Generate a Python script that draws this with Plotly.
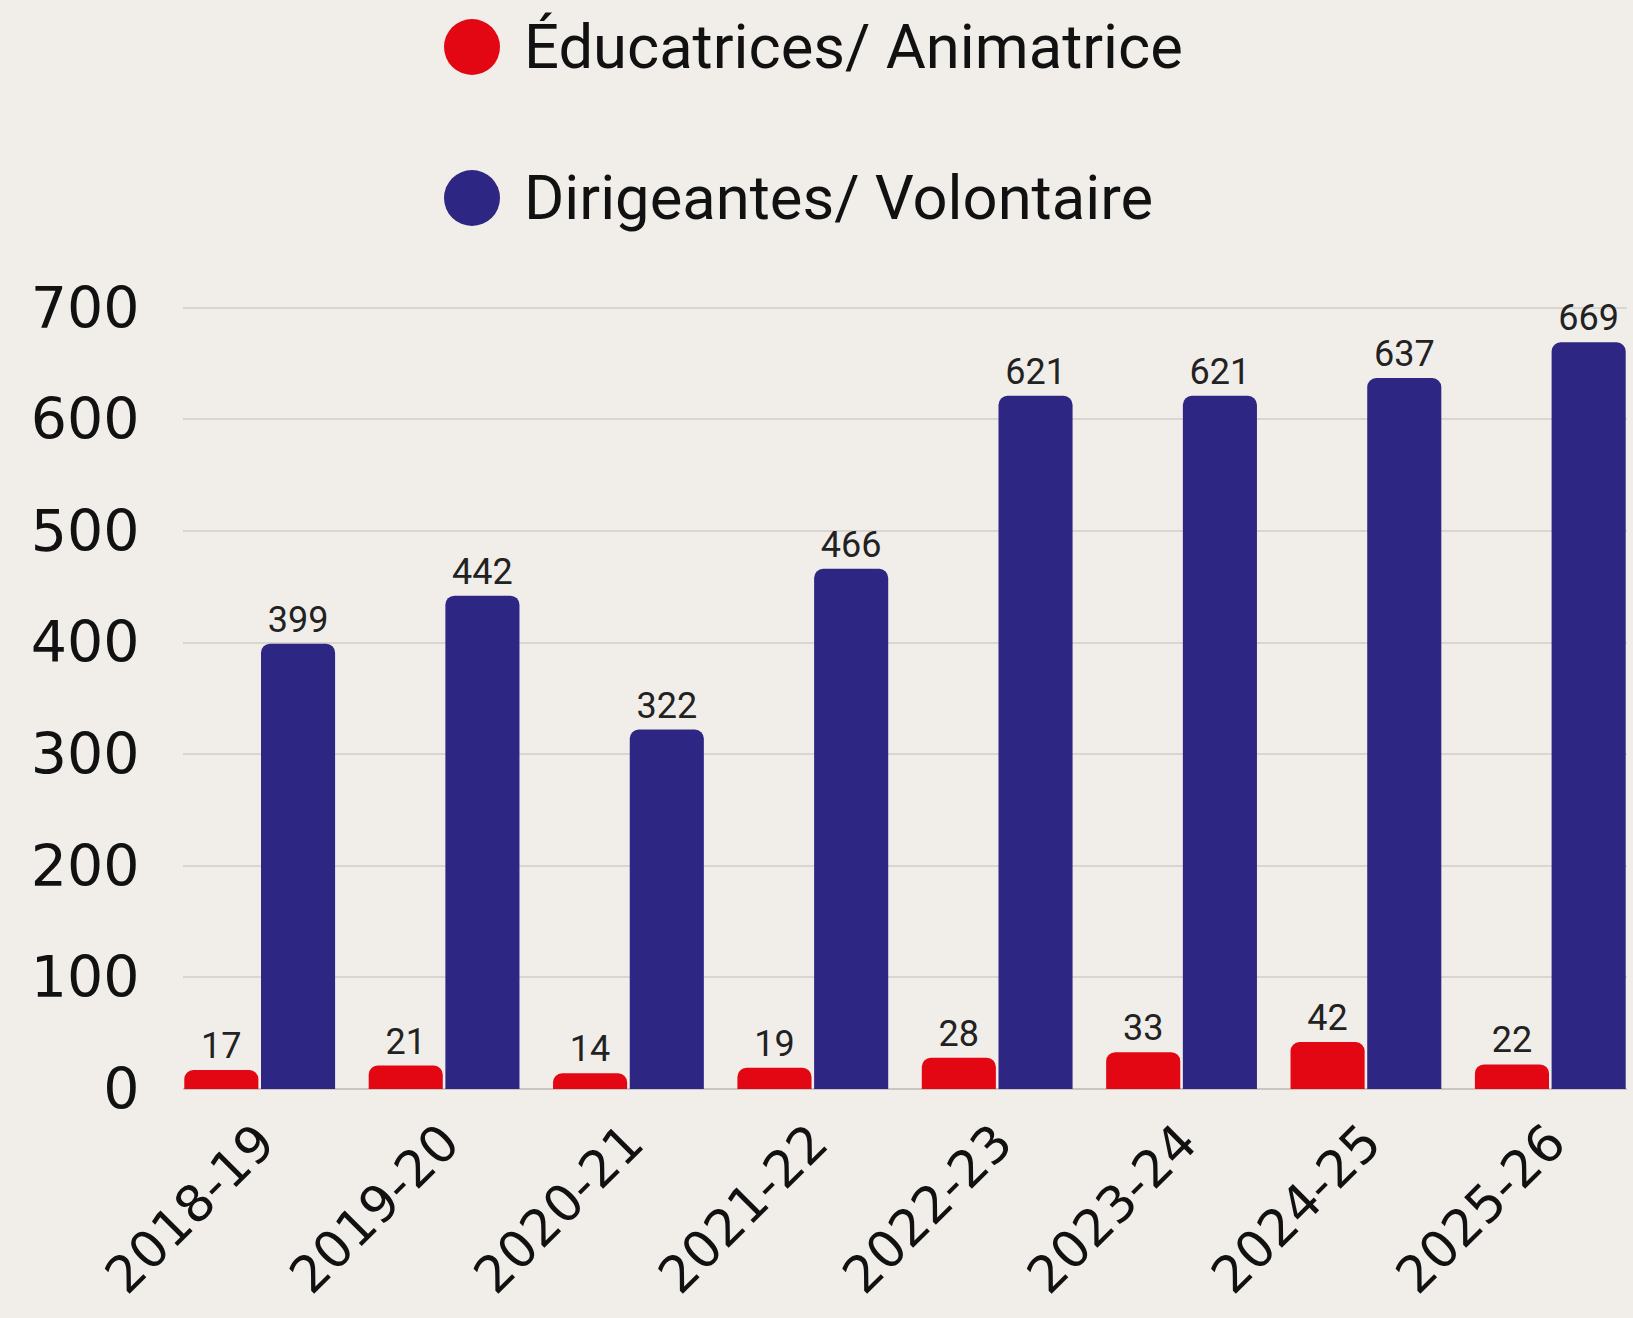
import plotly.graph_objects as go

seasons = ["2018-19", "2019-20", "2020-21", "2021-22", "2022-23", "2023-24", "2024-25", "2025-26"]
educatrices = [17, 21, 14, 19, 28, 33, 42, 22]
dirigeantes = [399, 442, 322, 466, 621, 621, 637, 669]
series_names = ["Éducatrices/ Animatrice", "Dirigeantes/ Volontaire"]
series_colors = ["#E30613", "#2E2683"]
y_ticks = [0, 100, 200, 300, 400, 500, 600, 700]

BG = "#F1EEEA"
W, H = 1633, 1318
L, R, T, B = 183, 6, 306, 229

fig = go.Figure()
for name, vals, col in zip(series_names, [educatrices, dirigeantes], series_colors):
    fig.add_trace(go.Bar(
        x=seasons, y=vals, name=name,
        marker=dict(color=col, cornerradius=9, line=dict(width=0)),
        text=[str(v) for v in vals], textposition="outside",
        textfont=dict(family="Roboto", size=36, color="#222222"),
        cliponaxis=False, showlegend=False,
    ))

# custom legend (big circles)
pw, ph = W - L - R, H - T - B
leg_y = [47, 198]
for name, col, py in zip(series_names, series_colors, leg_y):
    xp = (472 - L) / pw
    yp = (H - B - py) / ph
    fig.add_shape(type="circle", xref="paper", yref="paper",
                  xsizemode="pixel", ysizemode="pixel",
                  xanchor=xp, yanchor=yp, x0=-28, x1=28, y0=-28, y1=28,
                  fillcolor=col, line=dict(width=0))
    fig.add_annotation(text=name, xref="paper", yref="paper",
                       x=(522 - L) / pw, y=yp, xanchor="left", yanchor="middle",
                       showarrow=False,
                       font=dict(family="Roboto", size=61.5, color="#111111"))

fig.update_layout(
    width=W, height=H,
    margin=dict(l=L, r=R, t=T, b=B, pad=0, autoexpand=False),
    paper_bgcolor=BG, plot_bgcolor=BG,
    barmode="group", bargap=0.168, bargroupgap=0.034,
    font=dict(family="DejaVu Sans", color="#111111"),
)
fig.update_xaxes(
    range=[-0.416, 7.416], tickangle=-45, automargin=False,
    tickfont=dict(family="DejaVu Sans", size=51, color="#111111"),
    ticks="outside", ticklen=2, tickcolor="rgba(0,0,0,0)",
    showgrid=False, showline=False,
)
fig.update_yaxes(
    range=[0, 701.5], tickvals=y_ticks, automargin=False,
    tickfont=dict(family="DejaVu Sans", size=57, color="#111111"),
    ticks="outside", ticklen=31, tickcolor="rgba(0,0,0,0)",
    showgrid=True, gridcolor="#D9D5D1", gridwidth=2,
    zeroline=True, zerolinecolor="#C9C5C1", zerolinewidth=2,
    showline=False,
)

fig.write_html("out.html", config={"displayModeBar": False},
               post_script="document.body.style.margin='0';")
